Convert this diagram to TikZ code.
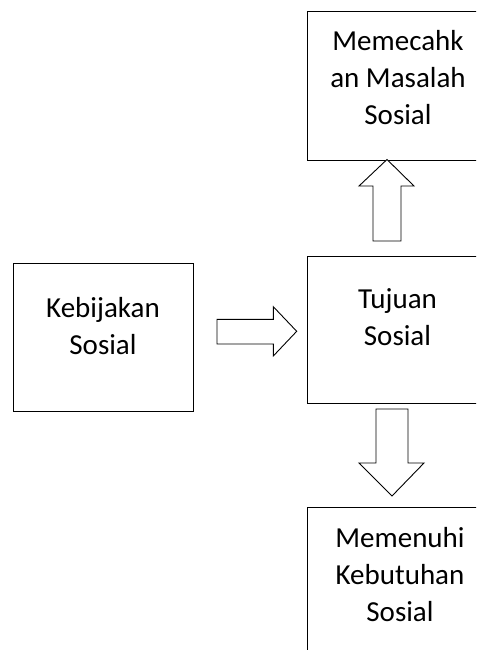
\documentclass[tikz,border=0pt]{standalone}
\usepackage{fontspec}
\setmainfont{Carlito}
\begin{document}
\begin{tikzpicture}[x=1pt,y=-1pt,
  box/.style={draw, line width=1pt, inner sep=0pt},
  txt/.style={align=center, inner sep=0pt, anchor=north, font=\fontsize{29}{37}\selectfont},
  blockarrow/.style={draw, fill=white, line width=0.9pt, line join=miter}]
\useasboundingbox (0,0) rectangle (479,650);
\begin{scope}
\clip (0,0) rectangle (476,650);
% boxes
\node[box, minimum width=180pt, minimum height=148pt] (kb) at (103,337) {};
\node[box, minimum width=184pt, minimum height=148pt] (mm) at (399,86) {};
\node[box, minimum width=184pt, minimum height=147pt] (tj) at (399,329.5) {};
\node[box, minimum width=184pt, minimum height=148pt] (mk) at (399,581) {};
% texts
\node[txt] (kbt) at (103,291.1) {\strut Kebijakan\\Sosial};
\node[txt] (mmt) at (398,24.1) {\strut Memecahk\\an Masalah\\Sosial};
\node[txt] (tjt) at (397.5,282.1) {\strut Tujuan\\Sosial};
\node[txt] (mkt) at (400,521.1) {\strut Memenuhi\\Kebutuhan\\Sosial};
% block arrows
\draw[blockarrow] (217,319.3) -- (273.3,319.3) -- (273.3,306.7) -- (296.7,331.3)
  -- (273.3,356) -- (273.3,344) -- (217,344) -- cycle;
\draw[blockarrow] (373,241) -- (373,186) -- (359,186) -- (387,159.5) -- (414,186)
  -- (401,186) -- (401,241) -- cycle;
\draw[blockarrow] (376,409) -- (408,409) -- (408,463) -- (424,463) -- (392,496)
  -- (359,463) -- (376,463) -- cycle;
\end{scope}
\end{tikzpicture}
\end{document}
